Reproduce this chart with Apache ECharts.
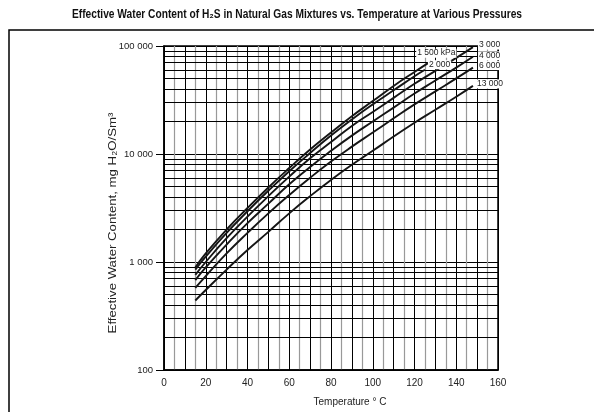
<!DOCTYPE html>
<html><head><meta charset="utf-8">
<script src="https://cdn.jsdelivr.net/npm/echarts@6/dist/echarts.min.js"></script>
<style>html,body{margin:0;padding:0;background:#fff}#c{width:594px;height:412px}</style>
</head><body><div id="c"></div>
<script>
// Temperatures (°C) at which each curve was read
const temps      = [15, 20, 30, 40, 50, 60, 70, 80, 90, 100, 110, 120, 130, 140, 148];
const temps1500  = [15, 20, 30, 40, 50, 60, 70, 80, 90, 100, 110, 120, 128];
const temps2000  = [15, 20, 30, 40, 50, 60, 70, 80, 90, 100, 110, 120, 125];
// Effective water content, mg H2O/Sm3
const w1500  = [890, 1200, 2000, 3160, 4900, 7410, 11000, 15800, 22400, 30900, 42700, 57500, 72400];
const w2000  = [850, 1120, 1860, 2950, 4570, 6920, 10200, 14800, 20900, 28800, 38900, 52500, 60300];
const w3000  = [760, 1000, 1660, 2630, 4070, 6170, 9120, 12900, 18200, 24500, 33100, 44700, 58900, 77600, 97700];
const w4000  = [680, 890, 1450, 2290, 3470, 5250, 7590, 10700, 14800, 20000, 26900, 36300, 47900, 63100, 79400];
const w6000  = [575, 740, 1200, 1860, 2820, 4170, 6030, 8510, 11700, 15800, 21400, 28800, 38000, 50100, 63100];
const w13000 = [440, 550, 850, 1290, 1900, 2820, 4070, 5750, 7940, 10700, 14500, 19500, 25700, 33900, 42700];
const pressureLabels = ['1 500 kPa', '2 000', '3 000', '4 000', '6 000', '13 000'];
// Axis ticks
const xLabelTicks = [0, 20, 40, 60, 80, 100, 120, 140, 160];
const yTicks = [100, 1000, 10000, 100000];
const yTickLabels = ['100', '1 000', '10 000', '100 000'];
const minorGridValues = [200,300,400,500,600,700,800,900,
  2000,3000,4000,5000,6000,7000,8000,9000,
  20000,30000,40000,50000,60000,70000,80000,90000];

const FONT = 'Liberation Sans, Arial, Helvetica, sans-serif';
function pairs(xs, ys){ return xs.map((x,i)=>[x, ys[i]]); }

const curveSets = [
  {x: temps1500, y: w1500, off: [-18, -8]},
  {x: temps2000, y: w2000, off: [0, -5]},
  {x: temps, y: w3000, off: [2, -2]},
  {x: temps, y: w4000, off: [2, -1]},
  {x: temps, y: w6000, off: [2, -2]},
  {x: temps, y: w13000, off: [0, -2]}
];

const series = [{
  type: 'line', data: [], silent: true, z: 1,
  markLine: {
    silent: true, symbol: 'none', z: 1, animation: false,
    label: {show: false},
    lineStyle: {color: '#000', width: 1, type: 'solid'},
    data: minorGridValues.map(v => ({yAxis: v}))
  }
}];
curveSets.forEach((c, i) => {
  series.push({
    name: pressureLabels[i], type: 'line', smooth: true, showSymbol: false, z: 3,
    data: pairs(c.x, c.y),
    lineStyle: {color: '#151515', width: 1.9},
    endLabel: {
      show: true, formatter: pressureLabels[i], fontFamily: FONT, fontSize: 8.5,
      color: '#222', backgroundColor: '#fff', padding: [0, 1], distance: 3, offset: c.off
    },
    animation: false
  });
});

const chart = echarts.init(document.getElementById('c'), null, {renderer: 'canvas'});
chart.setOption({
  backgroundColor: '#fff',
  animation: false,
  grid: {left: 164, right: 96, top: 46, bottom: 42, show: true, borderColor: '#000', borderWidth: 1.5, backgroundColor: 'transparent'},
  xAxis: {
    type: 'value', min: 0, max: 160, interval: 10,
    axisLine: {show: true, lineStyle: {color: '#000', width: 1.5}},
    axisTick: {show: false},
    axisLabel: {
      margin: 8, fontFamily: FONT, fontSize: 10, color: '#222',
      formatter: v => xLabelTicks.indexOf(v) >= 0 ? String(v) : ''
    },
    splitLine: {show: true, lineStyle: {color: '#000', width: 1}},
    minorTick: {show: false, splitNumber: 2},
    minorSplitLine: {show: true, lineStyle: {color: '#999', width: 1.2}}
  },
  yAxis: {
    type: 'log', logBase: 10, min: 100, max: 100000,
    axisLine: {show: true, lineStyle: {color: '#000', width: 1.5}},
    axisTick: {show: true, length: 8, lineStyle: {color: '#000', width: 1}},
    axisLabel: {
      margin: 11, fontFamily: FONT, fontSize: 9.5, color: '#222',
      formatter: v => { const k = yTicks.indexOf(Math.round(v)); return k >= 0 ? yTickLabels[k] : ''; }
    },
    splitLine: {show: true, lineStyle: {color: '#000', width: 1}}
  },
  graphic: [
    {type: 'rect', silent: true, z: -1, shape: {x: 9, y: 30, width: 620, height: 420},
     style: {fill: 'none', stroke: '#000', lineWidth: 1.5}},
    {type: 'text', x: 297, y: 15, scaleX: 0.85, silent: true,
     style: {text: 'Effective Water Content of H\u2082S in Natural Gas Mixtures vs. Temperature at Various Pressures',
       font: 'bold 12px ' + FONT, fill: '#111', align: 'center', verticalAlign: 'middle'}},
    {type: 'text', x: 113, y: 223, rotation: Math.PI / 2, scaleX: 1.2, silent: true,
     style: {text: 'Effective Water Content, mg H\u2082O/Sm\u00B3', font: '11px ' + FONT, fill: '#222',
       align: 'center', verticalAlign: 'middle'}},
    {type: 'text', x: 350, y: 402, silent: true,
     style: {text: 'Temperature \u00B0 C', font: '10px ' + FONT, fill: '#222', align: 'center', verticalAlign: 'middle'}}
  ],
  series: series
});
</script></body></html>
